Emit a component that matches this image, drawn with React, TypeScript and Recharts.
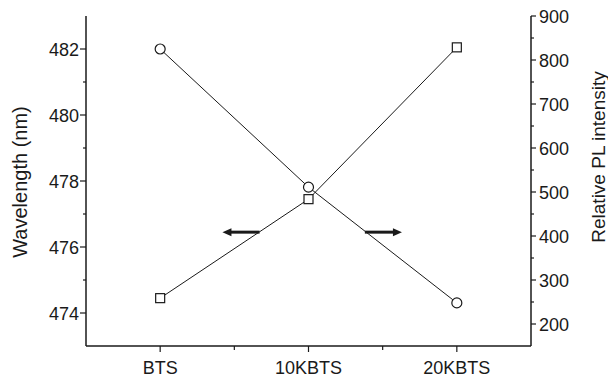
import React from 'react';
import { LineChart, Line, XAxis, YAxis, ReferenceLine } from 'recharts';

const categories = ['BTS', '10KBTS', '20KBTS'];
const wavelength = [474.45, 477.45, 482.05];
const plIntensity = [825, 511, 248];

const xTicks = [0, 0.5, 1, 1.5, 2];
const leftTicks = [474, 475, 476, 477, 478, 479, 480, 481, 482];
const rightTicks = [200, 250, 300, 350, 400, 450, 500, 550, 600, 650, 700, 750, 800, 850, 900];

const data = categories.map((name, i) => ({ x: i, name, wavelength: wavelength[i], pl: plIntensity[i] }));

const FONT = '"Liberation Sans", Arial, sans-serif';
const INK = '#1a1a1a';

const BottomTick = ({ x, y, payload }: any) => {
  const v = payload.value;
  const major = Number.isInteger(v);
  return (
    <g>
      <line x1={x} x2={x} y1={y} y2={y + (major ? 6 : 4)} stroke={INK} strokeWidth={1.2} />
      {major && (
        <text x={x} y={y + 28} textAnchor="middle" fontSize={18} fontFamily={FONT} fill={INK}>
          {categories[v]}
        </text>
      )}
    </g>
  );
};

const TopTick = ({ x, y, payload }: any) => {
  const major = Number.isInteger(payload.value);
  return <line x1={x} x2={x} y1={y} y2={y + (major ? 6 : 4)} stroke={INK} strokeWidth={1.2} />;
};

const LeftTick = ({ x, y, payload }: any) => {
  const major = payload.value % 2 === 0;
  return (
    <g>
      <line x1={x - (major ? 6 : 3)} x2={x} y1={y} y2={y} stroke={INK} strokeWidth={1.2} />
      {major && (
        <text x={x - 7} y={y + 6.5} textAnchor="end" fontSize={18} fontFamily={FONT} fill={INK}>
          {payload.value}
        </text>
      )}
    </g>
  );
};

const RightTick = ({ x, y, payload }: any) => {
  const major = payload.value % 100 === 0;
  return (
    <g>
      <line x1={x} x2={x + (major ? 5 : 3)} y1={y} y2={y} stroke={INK} strokeWidth={1.2} />
      {major && (
        <text x={x + 8} y={y + 6.5} textAnchor="start" fontSize={18} fontFamily={FONT} fill={INK}>
          {payload.value}
        </text>
      )}
    </g>
  );
};

const LeftLabel = ({ viewBox }: any) => {
  const cx = viewBox.x + 20;
  const cy = viewBox.y + viewBox.height / 2 + 1;
  return (
    <text x={cx} y={cy} transform={`rotate(-90, ${cx}, ${cy})`} textAnchor="middle" dominantBaseline="central" fontSize={20} fontFamily={FONT} fill={INK}>
      Wavelength (nm)
    </text>
  );
};

const RightLabel = ({ viewBox }: any) => {
  const cx = viewBox.x + 67;
  const cy = viewBox.y + 141;
  return (
    <text x={cx} y={cy} transform={`rotate(-90, ${cx}, ${cy})`} textAnchor="middle" dominantBaseline="central" fontSize={19} fontFamily={FONT} fill={INK}>
      Relative PL intensity
    </text>
  );
};

const SquareDot = ({ cx, cy }: any) => (
  <rect x={cx - 4.5} y={cy - 4.5} width={9} height={9} fill="#fff" stroke={INK} strokeWidth={1.2} />
);

const CircleDot = ({ cx, cy }: any) => (
  <circle cx={cx} cy={cy} r={5} fill="#fff" stroke={INK} strokeWidth={1.2} />
);

const arrow = (dir: number) => (p: any) => {
  const { x1, y1, x2, y2 } = p;
  const tipX = dir < 0 ? Math.min(x1, x2) : Math.max(x1, x2);
  const tailX = dir < 0 ? Math.max(x1, x2) : Math.min(x1, x2);
  const y = (y1 + y2) / 2;
  return (
    <g>
      <line x1={tailX} x2={tipX - dir * 7} y1={y} y2={y} stroke={INK} strokeWidth={3} />
      <polygon points={`${tipX},${y} ${tipX - dir * 9},${y - 4} ${tipX - dir * 9},${y + 4}`} fill={INK} />
    </g>
  );
};

export default function App() {
  return (
    <div style={{ position: 'absolute', left: 0, top: 0, background: '#fff' }}>
      <LineChart width={608} height={378} data={data} margin={{ top: 16, right: 0, bottom: 0, left: 0 }}>
        <XAxis
          dataKey="x"
          type="number"
          domain={[-0.5, 2.5]}
          ticks={xTicks}
          interval={0}
          height={32}
          tickSize={0}
          tickMargin={0}
          tickLine={false}
          tick={BottomTick}
          axisLine={{ stroke: INK, strokeWidth: 1.5 }}
        />
        <XAxis
          xAxisId="top"
          orientation="top"
          dataKey="x"
          type="number"
          domain={[-0.5, 2.5]}
          ticks={xTicks}
          interval={0}
          height={0}
          tickSize={0}
          tickMargin={0}
          tickLine={false}
          tick={TopTick}
          axisLine={{ stroke: INK, strokeWidth: 1.5 }}
        />
        <YAxis
          yAxisId="left"
          domain={[473, 483]}
          ticks={leftTicks}
          interval={0}
          width={86}
          tickSize={0}
          tickMargin={0}
          tickLine={false}
          tick={LeftTick}
          axisLine={{ stroke: INK, strokeWidth: 1.5 }}
          label={LeftLabel}
        />
        <YAxis
          yAxisId="right"
          orientation="right"
          domain={[150, 900]}
          ticks={rightTicks}
          interval={0}
          width={77}
          tickSize={0}
          tickMargin={0}
          tickLine={false}
          tick={RightTick}
          axisLine={{ stroke: INK, strokeWidth: 1.5 }}
          label={RightLabel}
        />
        <ReferenceLine
          yAxisId="left"
          segment={[{ x: 0.42, y: 476.45 }, { x: 0.67, y: 476.45 }]}
          shape={arrow(-1)}
        />
        <ReferenceLine
          yAxisId="left"
          segment={[{ x: 1.38, y: 476.45 }, { x: 1.63, y: 476.45 }]}
          shape={arrow(1)}
        />
        <Line
          yAxisId="left"
          dataKey="wavelength"
          stroke={INK}
          strokeWidth={1}
          dot={SquareDot}
          isAnimationActive={false}
        />
        <Line
          yAxisId="right"
          dataKey="pl"
          stroke={INK}
          strokeWidth={1}
          dot={CircleDot}
          isAnimationActive={false}
        />
      </LineChart>
    </div>
  );
}
